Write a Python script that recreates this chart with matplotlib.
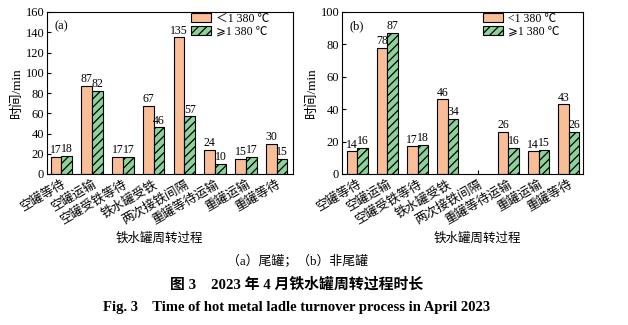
import matplotlib
matplotlib.use("Agg")
import matplotlib.pyplot as plt
import matplotlib.transforms as mtrans
import numpy as np

plt.rcParams['font.family'] = ['Liberation Serif', 'Noto Sans CJK SC', 'DejaVu Sans']
plt.rcParams['hatch.linewidth'] = 0.9
plt.rcParams['axes.unicode_minus'] = False

categories = ['空罐等待', '空罐运输', '空罐受铁等待', '铁水罐受铁', '两次接铁间隔',
              '重罐等待运输', '重罐运输', '重罐等待']
a_low = [17, 87, 17, 67, 135, 24, 15, 30]
a_high = [18, 82, 17, 46, 57, 10, 17, 15]
b_low = [14, 78, 17, 46, np.nan, 26, 14, 43]
b_high = [16, 87, 18, 34, np.nan, 16, 15, 26]
legend_a = ['＜1 380 ℃', '⩾1 380 ℃']
legend_b = ['<1 380 ℃', '⩾1 380 ℃']

c_orange = '#F9BE96'
c_green = '#8CD29A'

fig = plt.figure(figsize=(6.28, 3.25), dpi=100)
ax1 = fig.add_axes([47/628, 1-174/325, 246/628, 162/325])
ax2 = fig.add_axes([342/628, 1-174/325, 241/628, 162/325])

def draw(ax, low, high, ylim, yticks, tag, leg, xlim, xlabx):
    x = np.arange(len(categories))
    w = 0.35
    b1 = ax.bar(x - w/2, low, w, color=c_orange, edgecolor='black', linewidth=0.8, label=leg[0])
    b2 = ax.bar(x + w/2, high, w, color=c_green, edgecolor='black', linewidth=0.8,
                hatch='////', label=leg[1])
    lab1 = ['' if np.isnan(v) else f'{int(v)}' for v in low]
    lab2 = ['' if np.isnan(v) else f'{int(v)}' for v in high]
    ax.bar_label(b1, labels=lab1, padding=0.5, fontsize=8.5)
    ax.bar_label(b2, labels=lab2, padding=0.5, fontsize=8.5)
    ax.set_ylim(*ylim)
    ax.set_yticks(yticks)
    ax.set_xlim(*xlim)
    ax.set_xticks(x)
    ax.set_xticklabels(categories, rotation=30, ha='right', rotation_mode='anchor',
                       fontsize=8)
    offset = mtrans.ScaledTranslation(5/100, -1/100, fig.dpi_scale_trans)
    for lbl in ax.get_xticklabels():
        lbl.set_transform(lbl.get_transform() + offset)
    ax.tick_params(axis='both', direction='in', length=3, width=0.8, labelsize=9, pad=2)
    ax.tick_params(axis='x', pad=3)
    ax.set_ylabel('时间/min', fontsize=9.5, labelpad=2)
    ax.set_xlabel('铁水罐周转过程', fontsize=9)
    ax.xaxis.set_label_coords(xlabx, -0.36)
    for s in ax.spines.values():
        s.set_linewidth(0.8)
    ax.text(0.03, 0.95, tag, transform=ax.transAxes, ha='left', va='top', fontsize=9)
    ax.legend(loc='upper left', bbox_to_anchor=(0.575, 1.01), fontsize=8.5, frameon=False,
              handlelength=1.7, handleheight=0.8, handletextpad=0.4, labelspacing=0.1,
              borderaxespad=0.0, borderpad=0.2)

draw(ax1, a_low, a_high, (0, 160), range(0, 161, 20), '(a)', legend_a, (-0.47, 7.53), 0.455)
draw(ax2, b_low, b_high, (0, 100), range(0, 101, 20), '(b)', legend_b, (-0.5, 7.47), 0.56)

fig.text(297/628, 1-261/325, '（a）尾罐；（b）非尾罐', ha='center', va='center', fontsize=9.3)
fig.text(297/628, 1-284/325, '图 3    2023 年 4 月铁水罐周转过程时长', ha='center', va='center',
         fontsize=10.7, fontweight='bold')
fig.text(297/628, 1-307/325, 'Fig. 3    Time of hot metal ladle turnover process in April 2023',
         ha='center', va='center', fontsize=10.5, fontweight='bold')

fig.savefig('out.png', dpi=100)
